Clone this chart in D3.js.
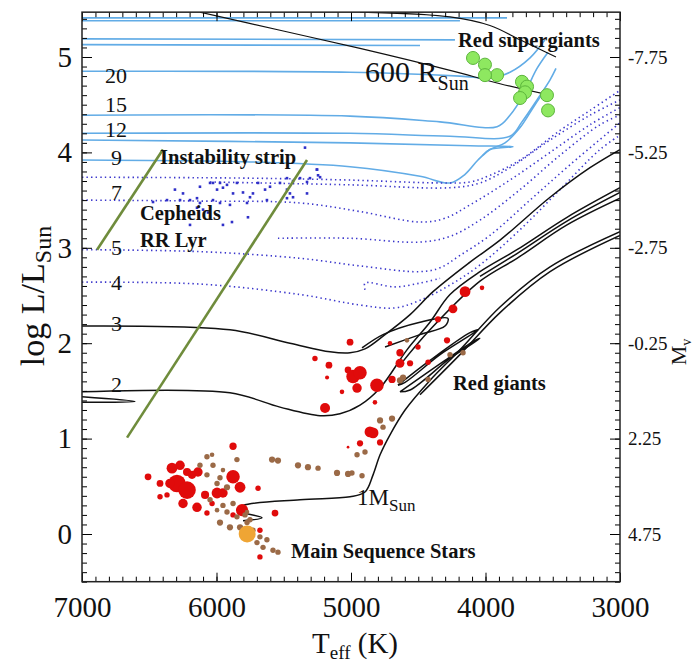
<!DOCTYPE html>
<html><head><meta charset="utf-8">
<script src="https://cdn.jsdelivr.net/npm/d3@7"></script>
<style>body{margin:0;background:#fff}</style>
</head><body><svg id="c" width="698" height="665"></svg>
<script>
// ---------- DATA (Teff in K, log L/Lsun) ----------
const teffTicks = [7000, 6000, 5000, 4000, 3000];
const logLTicks = [0, 1, 2, 3, 4, 5];
const mvTickLabels = ["4.75", "2.25", "-0.25", "-2.75", "-5.25", "-7.75"];

// massive star tracks (solid light blue)
const trackTop1 = [[7000,5.41],[3840,5.41]];
const trackTop2 = [[7000,5.38],[4190,5.38]];
const trackTop3 = [[7000,5.19],[4227,5.18]];
const trackTop4 = [[7000,5.13],[4487,5.12]];
const track20 = [[7000,4.85],[5007,4.84],[4190,4.80],[3967,4.78],[3818,4.84],[3669,4.99],[3558,5.18]];
const track15 = [[7000,4.39],[5007,4.38],[4338,4.32],[3914,4.27],[3818,4.39],[3706,4.63],[3617,4.88],[3535,5.05]];
const track12 = [[7000,4.20],[5007,4.20],[4264,4.17],[3818,4.17],[3729,4.32],[3617,4.55],[3520,4.76],[3476,4.88]];
const track12b = [[7000,4.13],[5007,4.10],[4115,4.07],[3796,4.06],[3967,4.03],[4019,3.97]];
const track9 = [[7000,3.92],[5751,3.90],[5007,3.85],[4487,3.75],[4264,3.68],[4152,3.77],[4056,3.92],[3967,4.03],[3855,4.10],[3743,4.26],[3632,4.50],[3558,4.65]];

// intermediate mass tracks (dotted blue)
const track7a = [[7000,3.74],[5751,3.73],[5007,3.71],[4338,3.68],[4115,3.69],[3967,3.76],[3743,3.92],[3446,4.23],[3223,4.44],[3000,4.65]];
const track7b = [[6048,3.69],[5007,3.66],[4264,3.63],[4041,3.68],[3818,3.84],[3520,4.13],[3223,4.39],[3000,4.55]];
const track6 = [[7000,3.50],[6123,3.49],[5379,3.47],[4933,3.38],[4487,3.27],[4301,3.31],[4115,3.45],[3818,3.71],[3520,4.00],[3223,4.29],[3000,4.47]];
const track5b = [[5543,3.10],[5007,3.10],[4487,3.06],[4264,3.12],[4041,3.29],[3743,3.61],[3446,3.97],[3149,4.29],[3000,4.39]];
const track5 = [[7000,2.98],[6123,2.96],[5379,2.89],[4933,2.81],[4487,2.75],[4338,2.79],[4190,2.92],[3967,3.13],[3669,3.50],[3372,3.87],[3000,4.31]];
const track4 = [[7000,2.64],[6123,2.62],[5379,2.51],[4933,2.40],[4673,2.37],[4487,2.45],[4264,2.61],[4041,2.82],[3743,3.19],[3446,3.61],[3149,4.03],[3000,4.18]];
const track4loop = [[4896,2.56],[4896,2.63],[4673,2.59],[4487,2.63],[4338,2.68]];

// low mass tracks (solid black)
const track3 = [[7000,2.18],[5900,2.14],[5454,2.00],[5156,1.91],[5007,1.90],[4896,1.94],[4747,2.09],[4561,2.30],[4390,2.54],[4115,2.85],[3892,3.08],[3520,3.53],[3223,3.84],[3000,4.03]];
const track3loop = [[4918,1.95],[4762,2.09],[4487,2.22],[4279,2.26],[4301,2.18],[4487,2.09],[4747,1.96]];
const track2 = [[7000,1.49],[5900,1.48],[5528,1.33],[5230,1.24],[5082,1.26],[4933,1.35],[4784,1.53],[4584,1.93],[4413,2.22],[4264,2.51],[4041,2.75],[3766,2.98],[3394,3.32],[3000,3.63]];
const track2b = [[4636,1.77],[4413,2.14],[4041,2.65],[3766,2.89],[3394,3.24],[3000,3.52]];
const track2c = [[4041,2.70],[3766,2.94],[3394,3.28],[3000,3.58]];
const track2stub = [[7000,1.44],[6606,1.39],[7000,1.38]];
const track1 = [[5803,0.14],[5662,0.17],[5848,0.25],[5803,0.30],[5379,0.36],[5007,0.39],[4896,0.44],[4836,0.62],[4784,0.83],[4710,1.04],[4598,1.30],[4413,1.61],[4190,1.93],[3892,2.38],[3520,2.80],[3000,3.17]];
const track1b = [[4487,1.46],[4190,1.88],[3892,2.32],[3520,2.75],[3000,3.13]];
const clumpLoop1 = [[4651,1.56],[4413,1.82],[4115,2.11],[4056,2.14],[4338,1.88],[4598,1.59],[4651,1.56]];
const clumpLoop2 = [[4636,1.49],[4301,1.82],[4078,2.03],[4041,2.05],[4264,1.84],[4561,1.51],[4636,1.49]];

// instability strip edges
const stripBlueEdge = [[6888,2.98],[6398,4.03]];
const stripRedEdge = [[6665,1.01],[5327,3.92]];

// constant radius lines
const radius600 = [[6123,5.47],[5528,5.28],[4933,5.09],[4264,4.86],[3892,4.72],[3520,4.60]];
const radiusUpper = [[4933,5.47],[4264,5.42],[3967,5.33],[3743,5.18],[3476,5.00]];

// Cepheid / RR Lyr points
const cepheidTeff = [6249,6309,6048,6026,5974,5922,5996,5952,5877,5803,5729,5639,5602,5528,5476,5431,5379,5327,5305,5253,5245,5327,5454,5431,5476,5625,5751,5773,5900,5974,6026,6145,6123,6197,6271,6368,6472,5952,5885,5766,6197,6100,6145,6063,5848,5691,6123,5476,5342,5253,5230];
const cepheidLogL = [3.57,3.61,3.68,3.68,3.68,3.66,3.61,3.63,3.57,3.58,3.57,3.61,3.64,3.68,3.73,3.70,3.73,3.69,3.73,3.82,3.76,3.57,3.57,3.53,3.61,3.50,3.53,3.47,3.45,3.47,3.50,3.52,3.47,3.50,3.50,3.50,3.48,3.24,3.27,3.32,3.24,3.40,3.42,3.37,3.68,3.68,3.64,3.52,4.05,3.82,3.74];

// red star sample [Teff, logL, size]
const redStars = [
 [6509,0.60,2.5],[6271,0.72,3.5],[6219,0.65,3],[6138,0.65,3.5],[5877,0.92,2.7],[5877,0.60,5],
 [6294,0.53,6.5],[6219,0.46,6.5],[6346,0.53,3.5],[6420,0.53,2.5],[6368,0.41,2],[6420,0.39,2],
 [6249,0.32,3.5],[6145,0.28,3.5],[6085,0.41,3],[5996,0.43,4],[5952,0.43,3.5],[5825,0.49,4],
 [5810,0.25,4.5],[5691,0.48,2],[5565,0.22,2.5],[5677,-0.24,2],[6033,0.32,2],[6071,0.22,2],
 [5877,0.20,2],[5677,0.04,2],[6331,0.69,4],[6182,0.62,3],
 [5268,1.84,2],[5164,1.77,2.5],[5178,1.64,1.5],[5193,1.32,3.7],[5067,1.49,1.7],[5022,1.72,2.5],
 [4985,1.65,5],[5007,2.01,2.5],[4955,1.53,3.5],[5022,0.91,1],[4933,1.69,5],[4807,1.56,5],
 [4822,1.38,1.7],[4710,2.00,1.7],[4502,1.96,2],[4636,1.90,2.7],[4636,1.79,3.3],[4561,1.79,2.3],
 [4695,1.62,2.7],[4427,1.80,2],[4286,2.03,2.3],[4859,1.07,4],[4836,1.06,4],[4933,0.95,2.3],
 [4784,0.96,2.3],[4152,2.54,4],[4026,2.58,1.7],[4242,2.36,3.3],[4353,2.25,2.3]
];
// brown star sample [Teff, logL, size]
const brownStars = [
 [6071,0.81,2],[6123,0.72,2],[6026,0.72,2],[5848,0.78,2],[5952,0.67,1.7],[6071,0.62,2],
 [5996,0.53,2],[5922,0.49,2.3],[6048,0.36,2],[5952,0.30,2],[5996,0.25,1.7],[5922,0.23,2],
 [5877,0.32,2],[5848,0.18,2],[5974,0.12,2.3],[5900,0.07,2.3],[5825,0.07,2.3],[5773,0.12,2],
 [5729,0.04,2],[5677,-0.03,2],[5699,-0.09,2],[5625,-0.06,2],[5654,-0.14,2],[5580,-0.17,2],
 [5543,-0.19,2],[5773,0.23,1.7],[5974,0.59,2],[6033,0.83,1.7],[5788,0.20,2],[5751,0.15,2],
 [5587,0.78,2.3],[5543,0.77,2.3],[5394,0.72,2.3],[5320,0.70,2.3],[5245,0.69,2],[5104,0.64,2.3],
 [5022,0.63,2.3],[4955,0.83,2],[4784,1.19,2.3],[4695,1.21,2.3],[4762,1.12,2],[4896,0.86,2],
 [4993,0.64,2],[4918,0.61,2],[4636,1.61,2.3],[4613,1.64,2.3],[4427,1.62,2],[4264,1.88,2],
 [4167,1.90,2],[4584,2.03,1.7]
];
// red supergiants [Teff, logL]
const supergiants = [[4093,4.99],[4004,4.92],[3914,4.81],[4004,4.81],[3729,4.74],[3691,4.69],[3706,4.63],[3743,4.57],[3543,4.60],[3535,4.44]];
const sun = [[5772,0.0]];

// ---------- DRAWING ----------
const svg = d3.select("#c");
const pL = 82, pR = 620;
const x = d3.scaleLinear().domain([7000,3000]).range([pL,pR]);
const y = d3.scaleLinear().domain([0,5]).range([534,57]);
const yMin = -0.5, yMax = 5.47;
const pT = y(yMax), pB = y(yMin);
const font = "'Liberation Serif','Times New Roman',serif";

svg.append("rect").attr("width",698).attr("height",665).attr("fill","#fff");
svg.append("defs").append("clipPath").attr("id","clip")
  .append("rect").attr("x",pL).attr("y",pT).attr("width",pR-pL).attr("height",pB-pT);
const plot = svg.append("g").attr("clip-path","url(#clip)");

const smooth = d3.line().x(d=>x(d[0])).y(d=>y(d[1])).curve(d3.curveCatmullRom.alpha(0.5));
const straight = d3.line().x(d=>x(d[0])).y(d=>y(d[1]));

const massive = [trackTop1,trackTop2,trackTop3,trackTop4,track20,track15,track12,track12b,track9];
plot.selectAll(".blue").data(massive).join("path")
  .attr("d",smooth).attr("fill","none").attr("stroke","#62ace6").attr("stroke-width",1.6);

const inter = [track7a,track7b,track6,track5b,track5,track4,track4loop];
plot.selectAll(".dot").data(inter).join("path")
  .attr("d",smooth).attr("fill","none").attr("stroke","#3a36cc").attr("stroke-width",1.6)
  .attr("stroke-dasharray","1.4,3.2");

plot.selectAll(".ceph").data(d3.range(cepheidTeff.length)).join("rect")
  .attr("x",i=>x(cepheidTeff[i])-1.3).attr("y",i=>y(cepheidLogL[i])-1.3)
  .attr("width",2.6).attr("height",2.6).attr("fill","#3030c8");

const lowMass = [track3,track3loop,track2,track2b,track2c,track2stub,track1,track1b,clumpLoop1,clumpLoop2];
plot.selectAll(".blk").data(lowMass).join("path")
  .attr("d",smooth).attr("fill","none").attr("stroke","#111").attr("stroke-width",1.5);

plot.selectAll(".strip").data([stripBlueEdge,stripRedEdge]).join("path")
  .attr("d",straight).attr("fill","none").attr("stroke","#6f8c3c").attr("stroke-width",2.6);

plot.selectAll(".rad").data([radius600,radiusUpper]).join("path")
  .attr("d",smooth).attr("fill","none").attr("stroke","#111").attr("stroke-width",1.2);

plot.selectAll(".red").data(redStars).join("circle")
  .attr("cx",d=>x(d[0])).attr("cy",d=>y(d[1])).attr("r",d=>d[2]*1.35).attr("fill","#e00b0b");
plot.selectAll(".brown").data(brownStars).join("circle")
  .attr("cx",d=>x(d[0])).attr("cy",d=>y(d[1])).attr("r",d=>d[2]*1.35).attr("fill","#9b6a47");
plot.selectAll(".sun").data(sun).join("circle")
  .attr("cx",d=>x(d[0])).attr("cy",d=>y(d[1])).attr("r",8.5).attr("fill","#efa534");
plot.selectAll(".rsg").data(supergiants).join("circle")
  .attr("cx",d=>x(d[0])).attr("cy",d=>y(d[1])).attr("r",6.5)
  .attr("fill","#8ee860").attr("stroke","#5cb53c").attr("stroke-width",1);

// ---------- AXES ----------
const minorT = d3.range(3000,7001,100);
const minorL = d3.range(-5,55).map(v=>v/10);
function styleAxis(g){ g.select(".domain").remove(); g.selectAll("line").attr("stroke","#000"); }
svg.append("g").attr("transform",`translate(0,${pB})`)
  .call(d3.axisBottom(x).tickValues(minorT).tickSize(-5).tickFormat("")).call(styleAxis);
svg.append("g").attr("transform",`translate(0,${pT})`)
  .call(d3.axisTop(x).tickValues(minorT).tickSize(-5).tickFormat("")).call(styleAxis);
svg.append("g").attr("transform",`translate(0,${pT})`)
  .call(d3.axisTop(x).tickValues(teffTicks).tickSize(-9).tickFormat("")).call(styleAxis);
const bx = svg.append("g").attr("transform",`translate(0,${pB})`)
  .call(d3.axisBottom(x).tickValues(teffTicks).tickSize(-9).tickPadding(15).tickFormat(d3.format("d")));
styleAxis(bx);
bx.selectAll("text").attr("font-family",font).attr("font-size",29).attr("fill","#111");

svg.append("g").attr("transform",`translate(${pL},0)`)
  .call(d3.axisLeft(y).tickValues(minorL).tickSize(-5).tickFormat("")).call(styleAxis);
const ly = svg.append("g").attr("transform",`translate(${pL},0)`)
  .call(d3.axisLeft(y).tickValues(logLTicks).tickSize(-10).tickPadding(10).tickFormat(d3.format("d")));
styleAxis(ly);
ly.selectAll("text").attr("font-family",font).attr("font-size",29).attr("fill","#111");

svg.append("g").attr("transform",`translate(${pR},0)`)
  .call(d3.axisRight(y).tickValues(minorL).tickSize(-5).tickFormat("")).call(styleAxis);
const ry = svg.append("g").attr("transform",`translate(${pR},0)`)
  .call(d3.axisRight(y).tickValues(logLTicks).tickSize(-10).tickPadding(8).tickFormat((d,i)=>mvTickLabels[i]));
styleAxis(ry);
ry.selectAll("text").attr("font-family",font).attr("font-size",19).attr("fill","#111");

svg.append("rect").attr("x",pL).attr("y",pT).attr("width",pR-pL).attr("height",pB-pT)
  .attr("fill","none").attr("stroke","#222").attr("stroke-width",1.5);

// ---------- TEXT ----------
function txt(px,py,s,size,bold){
  return svg.append("text").attr("x",px).attr("y",py).attr("font-family",font)
    .attr("font-size",size).attr("font-weight",bold?"bold":"normal").attr("fill","#111").text(s);
}
function subTxt(px,py,main,sub,size,subSize,bold){
  const t = svg.append("text").attr("x",px).attr("y",py).attr("font-family",font)
    .attr("font-size",size).attr("fill","#111").attr("font-weight",bold?"bold":"normal");
  t.append("tspan").text(main);
  t.append("tspan").attr("font-size",subSize).attr("dy",size*0.28).text(sub);
  return t;
}
const massLabels = [["20",83],["15",112],["12",137],["9",165],["7",200],["5",255],["4",290],["3",331],["2",392]];
massLabels.forEach(([s,py])=>txt(s.length>1?105:111,py,s,22,false));

txt(160,164,"Instability strip",20.5,true);
txt(140,220,"Cepheids",20.5,true);
txt(140,247,"RR Lyr",20.5,true);
txt(458,47,"Red supergiants",20.5,true);
txt(453,390,"Red giants",20.5,true);
txt(291,558,"Main Sequence Stars",20.5,true);
subTxt(365,82,"600 R","Sun",30,20,false);
subTxt(357,505,"1M","Sun",23,17,false);

// axis titles
const tt = svg.append("text").attr("x",355).attr("y",653).attr("text-anchor","middle")
  .attr("font-family",font).attr("font-size",29).attr("fill","#111");
tt.append("tspan").text("T");
tt.append("tspan").attr("font-size",19).attr("dy",6).text("eff");
tt.append("tspan").attr("dy",-6).text(" (K)");

const yl = svg.append("text").attr("transform","translate(44,296) rotate(-90)").attr("text-anchor","middle")
  .attr("font-family",font).attr("font-size",34).attr("fill","#111");
yl.append("tspan").text("log L/L");
yl.append("tspan").attr("font-size",24).attr("dy",7).text("Sun");

const mv = svg.append("text").attr("transform","translate(686,352) rotate(-90)").attr("text-anchor","middle")
  .attr("font-family",font).attr("font-size",22).attr("fill","#111");
mv.append("tspan").text("M");
mv.append("tspan").attr("font-size",14).attr("dy",5).text("v");
</script></body></html>
